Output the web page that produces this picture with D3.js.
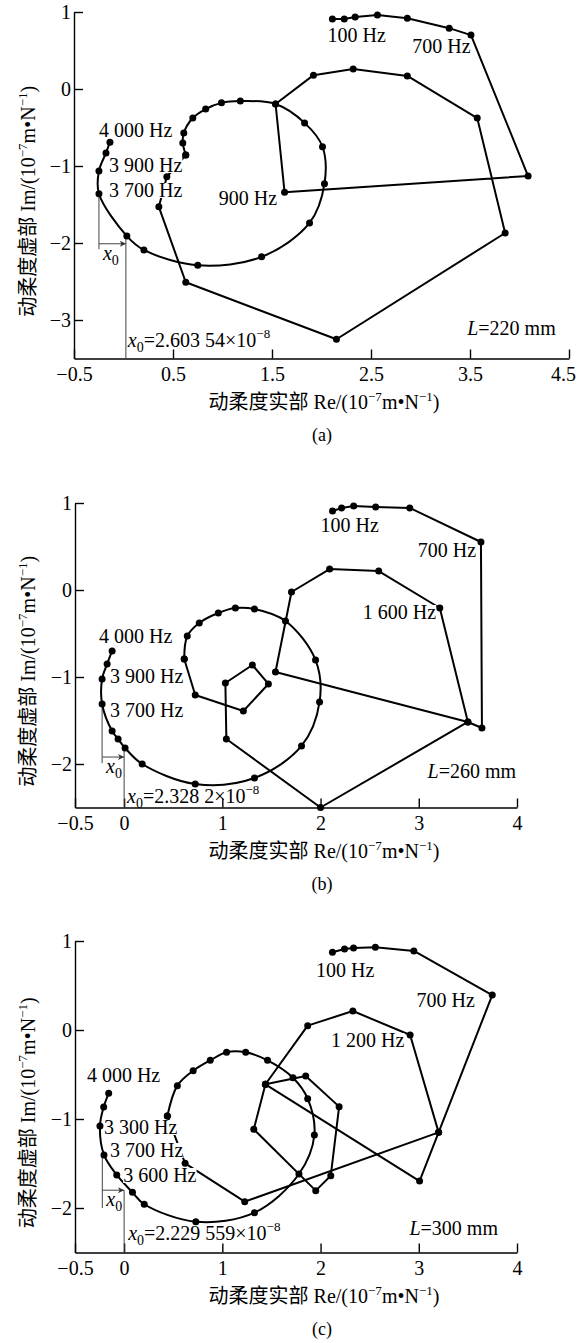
<!DOCTYPE html>
<html>
<head>
<meta charset="utf-8">
<script src="https://cdn.jsdelivr.net/npm/d3@7"></script>
<style>
  body { margin: 0; background: #fff; }
  svg text { font-family: "Liberation Serif", "Times New Roman", "Noto Sans CJK SC", serif; fill: #000; }
</style>
</head>
<body>
<svg id="chart"></svg>
<script>
// ---- data: [Re, Im] in 1e-7 m/N ----

// (a) L = 220 mm
const aOuter = [[2.11,0.91],[2.23,0.91],[2.34,0.935],[2.565,0.96],[2.867,0.92],[3.29,0.79],[3.51,0.70],
  [4.087,-1.13],[1.627,-1.34],[1.536,-0.195],[1.919,0.18],[2.32,0.26],[2.867,0.17],[3.573,-0.377],
  [3.855,-1.87],[2.151,-3.25],[0.629,-2.51],[0.357,-1.53],[0.4375,-1.14],[0.629,-0.857]];
const aSpiral = [[0.629,-0.857],[0.599,-0.70],[0.609,-0.571],[0.70,-0.377],[0.83,-0.26],[0.99,-0.18],
  [1.18,-0.156],[1.536,-0.195],[1.829,-0.44],[2.01,-0.75],[2.03,-1.23],[1.879,-1.74],[1.395,-2.18],
  [0.75,-2.29],[0.206,-2.09],[0.034,-1.91],[-0.248,-1.36],[-0.248,-1.065],[-0.177,-0.83],[-0.137,-0.69]];
const aLabels = [
  { t: '100 Hz', x: 2.06, y: 0.61 },
  { t: '700 Hz', x: 2.917, y: 0.468 },
  { t: '4 000 Hz', x: -0.248, y: -0.623 },
  { t: '3 900 Hz', x: -0.147, y: -1.078 },
  { t: '3 700 Hz', x: -0.147, y: -1.403 },
  { t: '900 Hz', x: 0.962, y: -1.506 }
];
const aXTicks = [-0.5, 0.5, 1.5, 2.5, 3.5, 4.5];
const aYTicks = [1, 0, -1, -2, -3];
const aX0 = { left: -0.248, leftTop: -1.36, leftBottom: -2.08, arrowY: -2.01, right: 0.024, rightTop: -1.91,
  value: '2.603 54', tx: 0.044, ty: -3.35 };
const aL = { value: '220', x: 3.472, y: -3.195 };

// (b) L = 260 mm
const bOuter = [[2.122,0.908],[2.214,0.943],[2.337,0.966],[2.561,0.954],[2.908,0.943],[3.633,0.552],
  [3.643,-1.586],[3.50,-1.517],[1.541,-0.943],[1.704,-0.023],[2.092,0.241],[2.592,0.218],[3.214,-0.207],
  [3.50,-1.517],[2.0,-2.5],[1.041,-1.713],[1.031,-1.069],[1.306,-0.862],[1.469,-1.08],[1.214,-1.391],
  [0.724,-1.207],[0.612,-0.793]];
const bSpiral = [[0.612,-0.793],[0.643,-0.529],[0.765,-0.379],[0.959,-0.264],[1.133,-0.207],[1.327,-0.218],
  [1.643,-0.356],[1.949,-0.805],[1.99,-1.287],[1.806,-1.793],[1.327,-2.161],[0.724,-2.23],[0.184,-2.0],
  [0.01,-1.816],[-0.061,-1.713],[-0.122,-1.621],[-0.224,-1.31],[-0.224,-1.023],[-0.173,-0.851],[-0.122,-0.70]];
const bLabels = [
  { t: '100 Hz', x: 2.0, y: 0.667 },
  { t: '700 Hz', x: 2.99, y: 0.379 },
  { t: '1 600 Hz', x: 2.43, y: -0.333 },
  { t: '4 000 Hz', x: -0.255, y: -0.609 },
  { t: '3 900 Hz', x: -0.143, y: -1.069 },
  { t: '3 700 Hz', x: -0.143, y: -1.46 }
];
const bXTicks = [-0.5, 0, 1, 2, 3, 4];
const bYTicks = [1, 0, -1, -2];
const bX0 = { left: -0.224, leftTop: -1.31, leftBottom: -1.99, arrowY: -1.92, right: 0, rightTop: -1.816,
  value: '2.328 2', tx: 0.03, ty: -2.45 };
const bL = { value: '260', x: 3.09, y: -2.16 };

// (c) L = 300 mm
const cOuter = [[2.121,0.873],[2.244,0.910],[2.336,0.921],[2.558,0.929],[2.950,0.888],[3.748,0.393],
  [3.202,-1.150],[3.008,-1.697],[1.439,-0.610],[1.869,0.049],[2.329,0.213],[2.912,-0.056],[3.202,-1.150],
  [1.228,-1.929],[0.621,-1.498],[0.440,-0.966]];
const cInner = [[1.439,-0.610],[1.849,-0.517],[2.189,-0.861],[2.104,-1.637],[1.951,-1.805],[1.320,-1.116],[1.439,-0.610]];
const cSpiral = [[0.440,-0.966],[0.542,-0.625],[0.703,-0.457],[0.877,-0.341],[1.043,-0.251],[1.238,-0.251],
  [1.460,-0.341],[1.719,-0.536],[1.869,-0.772],[1.937,-1.180],[1.780,-1.618],[1.327,-2.052],[0.730,-2.154],
  [0.205,-1.958],[0.085,-1.824],[-0.075,-1.629],[-0.205,-1.404],[-0.246,-1.079],[-0.208,-0.865],[-0.157,-0.711]];
const cLabels = [
  { t: '100 Hz', x: 1.954, y: 0.596 },
  { t: '700 Hz', x: 2.977, y: 0.258 },
  { t: '1 200 Hz', x: 2.107, y: -0.191 },
  { t: '4 000 Hz', x: -0.379, y: -0.584 },
  { t: '3 300 Hz', x: -0.205, y: -1.169 },
  { t: '3 700 Hz', x: -0.143, y: -1.427 },
  { t: '3 600 Hz', x: -0.010, y: -1.708 }
];
const cXTicks = [-0.5, 0, 1, 2, 3, 4];
const cYTicks = [1, 0, -1, -2];
const cX0 = { left: -0.222, leftTop: -1.404, leftBottom: -2.0, arrowY: -1.80, right: 0, rightTop: -1.80,
  value: '2.229 559', tx: 0.041, ty: -2.36 };
const cL = { value: '300', x: 2.905, y: -2.303 };

// ---- layout ----
const W = 581, H = 1343;
const panels = [
  { cap: '(a)', xDomain: [-0.5, 4.5], yDomain: [-3.5, 1], left: 74, right: 569, top: 12, bottom: 358.5,
    xTicks: aXTicks, yTicks: aYTicks, straight: [aOuter], smooth: [aSpiral], labels: aLabels, x0: aX0, L: aL },
  { cap: '(b)', xDomain: [-0.5, 4], yDomain: [-2.5, 1], left: 75, right: 517, top: 503, bottom: 807.5,
    xTicks: bXTicks, yTicks: bYTicks, straight: [bOuter], smooth: [bSpiral], labels: bLabels, x0: bX0, L: bL },
  { cap: '(c)', xDomain: [-0.5, 4], yDomain: [-2.5, 1], left: 75, right: 517, top: 941, bottom: 1252.5,
    xTicks: cXTicks, yTicks: cYTicks, straight: [cOuter, cInner], smooth: [cSpiral], labels: cLabels, x0: cX0, L: cL }
];

const svg = d3.select('#chart')
  .attr('width', W)
  .attr('height', H)
  .attr('viewBox', `0 0 ${W} ${H}`);

svg.append('defs').append('marker')
  .attr('id', 'arr')
  .attr('viewBox', '0 0 10 10')
  .attr('refX', 10).attr('refY', 5)
  .attr('markerWidth', 9).attr('markerHeight', 6)
  .attr('markerUnits', 'userSpaceOnUse')
  .attr('orient', 'auto')
  .append('path')
  .attr('d', 'M0,0 L10,5 L0,10 L2.5,5 Z')
  .attr('fill', '#333');

const fmt = d => (d < 0 ? '\u2212' : '') + Math.abs(d);

function unitTitle(sel, head) {
  sel.append('tspan').text(head + '/(10');
  sel.append('tspan').attr('dy', -8).style('font-size', '13px').text('\u22127');
  sel.append('tspan').attr('dy', 8).text('m\u2022N');
  sel.append('tspan').attr('dy', -8).style('font-size', '13px').text('\u22121');
  sel.append('tspan').attr('dy', 8).text(')');
}

panels.forEach(p => {
  const x = d3.scaleLinear().domain(p.xDomain).range([p.left, p.right]);
  const y = d3.scaleLinear().domain(p.yDomain).range([p.bottom, p.top]);
  const g = svg.append('g');

  // axes (inward ticks, no frame)
  const xAxis = g.append('g')
    .attr('transform', `translate(0, ${p.bottom})`)
    .call(d3.axisBottom(x).tickValues(p.xTicks).tickFormat(fmt).tickSize(-9).tickSizeOuter(0).tickPadding(8));
  const yAxis = g.append('g')
    .attr('transform', `translate(${p.left}, 0)`)
    .call(d3.axisLeft(y).tickValues(p.yTicks).tickFormat(fmt).tickSize(-9).tickSizeOuter(0).tickPadding(3));
  [xAxis, yAxis].forEach(a => {
    a.selectAll('path, line').attr('stroke', '#000').attr('stroke-width', 1.4);
    a.selectAll('text').style('font-size', '20px').attr('fill', '#000');
  });
  // keep the last x label inside the page
  xAxis.selectAll('.tick:last-of-type text').attr('dx', x.range()[1] > 560 ? -6 : 0);

  // axis titles
  const xt = g.append('text')
    .attr('x', 324).attr('y', p.bottom + 50)
    .attr('text-anchor', 'middle')
    .style('font-size', '20px');
  unitTitle(xt, '动柔度实部 Re');

  const cy = (p.top + p.bottom) / 2 + 16;
  const yt = g.append('text')
    .attr('transform', 'rotate(-90)')
    .attr('x', -cy).attr('y', 35)
    .attr('text-anchor', 'middle')
    .style('font-size', '20px');
  unitTitle(yt, '动柔度虚部 Im');

  // caption
  g.append('text')
    .attr('x', 322).attr('y', p.bottom + 82)
    .attr('text-anchor', 'middle')
    .style('font-size', '18px')
    .text(p.cap);

  // x0 marker
  const m = p.x0;
  const mk = g.append('g').attr('stroke', '#444').attr('stroke-width', 1).attr('fill', 'none');
  mk.append('line')
    .attr('x1', x(m.left)).attr('x2', x(m.left))
    .attr('y1', y(m.leftTop)).attr('y2', y(m.leftBottom));
  mk.append('line')
    .attr('x1', x(m.right)).attr('x2', x(m.right))
    .attr('y1', y(m.rightTop)).attr('y2', p.bottom);
  mk.append('line')
    .attr('x1', x(m.left)).attr('x2', x(m.right))
    .attr('y1', y(m.arrowY)).attr('y2', y(m.arrowY))
    .attr('marker-end', 'url(#arr)');
  const xl = g.append('text')
    .attr('x', x(m.left) + 4).attr('y', y(m.arrowY) + 16)
    .style('font-size', '20px');
  xl.append('tspan').style('font-style', 'italic').text('x');
  xl.append('tspan').attr('dy', 5).style('font-size', '14px').text('0');

  // curves
  const straight = d3.line().x(d => x(d[0])).y(d => y(d[1]));
  const smooth = d3.line().x(d => x(d[0])).y(d => y(d[1])).curve(d3.curveCatmullRom.alpha(0.5));
  g.selectAll('path.str').data(p.straight).join('path')
    .attr('class', 'str')
    .attr('d', straight)
    .attr('fill', 'none').attr('stroke', '#000').attr('stroke-width', 2)
    .attr('stroke-linejoin', 'round');
  g.selectAll('path.smo').data(p.smooth).join('path')
    .attr('class', 'smo')
    .attr('d', smooth)
    .attr('fill', 'none').attr('stroke', '#000').attr('stroke-width', 2);

  // frequency labels on a white ground (they hide the lines beneath them)
  p.labels.forEach(l => {
    const bg = g.append('rect').attr('fill', '#fff');
    const t = g.append('text')
      .attr('x', x(l.x)).attr('y', y(l.y))
      .style('font-size', '20px')
      .text(l.t);
    const bb = t.node().getBBox();
    bg.attr('x', bb.x).attr('width', bb.width)
      .attr('y', y(l.y) - 14).attr('height', 15);
  });

  // L = ... mm
  const lt = g.append('text').attr('x', x(p.L.x)).attr('y', y(p.L.y)).style('font-size', '20px');
  lt.append('tspan').style('font-style', 'italic').text('L');
  lt.append('tspan').text('=' + p.L.value + ' mm');

  // x0 value
  const vt = g.append('text').attr('x', x(m.tx)).attr('y', y(m.ty)).style('font-size', '20px');
  vt.append('tspan').style('font-style', 'italic').text('x');
  vt.append('tspan').attr('dy', 5).style('font-size', '14px').text('0');
  vt.append('tspan').attr('dy', -5).text('=' + m.value + '\u00d710');
  vt.append('tspan').attr('dy', -9).style('font-size', '13px').text('\u22128');

  // points
  const pts = p.straight.concat(p.smooth).flat();
  g.selectAll('circle').data(pts).join('circle')
    .attr('cx', d => x(d[0])).attr('cy', d => y(d[1]))
    .attr('r', 3.5).attr('fill', '#000');
});
</script>
</body>
</html>
